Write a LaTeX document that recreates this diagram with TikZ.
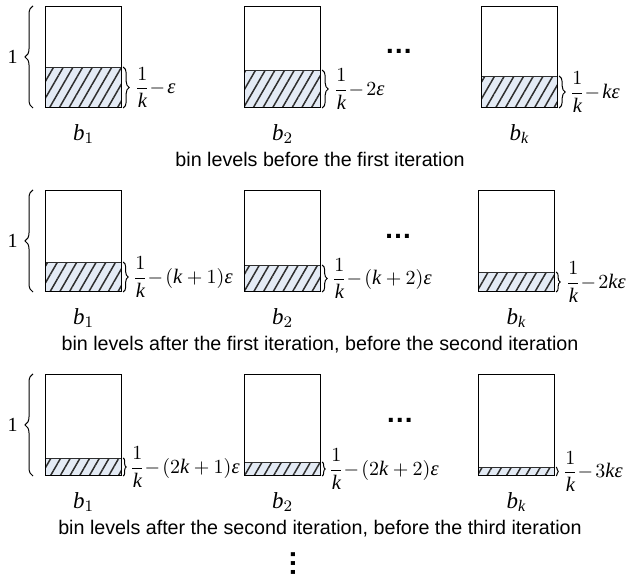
\documentclass[tikz,border=0pt]{standalone}
\usepackage{amsmath}
\usepackage{fontspec}
\setmainfont{Liberation Serif}
\newfontfamily\arialfont{Liberation Sans}
\usetikzlibrary{positioning,patterns.meta,decorations.pathreplacing}

\definecolor{hatchfill}{HTML}{E4EBF5}
\definecolor{hatchline}{HTML}{2E2E2E}

\newcommand{\lvl}[1]{$\nulldelimiterspace=0pt\dfrac{1}{\textit{k}}\mskip2mu{-}\mskip2mu#1$}
\newcommand{\veps}{\textit{ε}}
\newcommand{\vk}{\textit{k}}

\tikzset{
    bin/.style={draw, line width=0.55pt, minimum width=38pt, minimum height=50.5pt, inner sep=0pt, anchor=south west},
    fillbox/.style={draw=hatchline, line width=0.5pt, fill=hatchfill, minimum width=38pt, inner sep=0pt, anchor=south west,
        postaction={pattern={Lines[angle=60,distance=4.2pt,line width=0.75pt]}, pattern color=hatchline}},
    lvlbrace/.style={decorate, decoration={brace, amplitude=#1}, line width=0.5pt},
    lvl/.style={inner sep=0pt, font=\fontsize{10.3}{12}\selectfont},
    binname/.style={inner sep=0pt, font=\fontsize{11.5}{13}\selectfont},
    caption/.style={inner sep=0pt, anchor=base, font=\arialfont\fontsize{9.85}{12}\selectfont},
    one/.style={inner sep=0pt, font=\fontsize{10}{12}\selectfont},
    moredots/.style={inner sep=0pt, font=\arialfont\bfseries\fontsize{14}{14}\selectfont}
}

\begin{document}
\begin{tikzpicture}[x=0.5pt,y=-0.5pt]
        \useasboundingbox (0,0) rectangle (639,580);

        % Before the first iteration
        \node[fillbox, minimum height=20pt] (r1h1) at (45,108) {};
        \node[bin] (r1b1) at (45,108) {};
        \node[fillbox, minimum height=18.5pt] (r1h2) at (244,108) {};
        \node[bin] (r1b2) at (244,108) {};
        \node[fillbox, minimum height=15.5pt] (r1hk) at (481,108) {};
        \node[bin] (r1bk) at (481,108) {};
        \draw[lvlbrace=4pt] ([xshift=-6pt]r1b1.south west) -- ([xshift=-6pt]r1b1.north west);
        \node[one, left=13.5pt of r1b1.west] (r1one) {1};
        \draw[lvlbrace=3pt] ([xshift=0.6pt]r1h1.north east) -- ([xshift=0.6pt]r1h1.south east);
        \draw[lvlbrace=3pt] ([xshift=0.6pt]r1h2.north east) -- ([xshift=0.6pt]r1h2.south east);
        \draw[lvlbrace=3pt] ([xshift=0.6pt]r1hk.north east) -- ([xshift=0.6pt]r1hk.south east);
        \node[lvl, right=7.5pt of r1h1.east] (r1l1) {\lvl{\veps}};
        \node[lvl, right=7.5pt of r1h2.east] (r1l2) {\lvl{2\veps}};
        \node[lvl, right=7pt of r1hk.east] (r1lk) {\lvl{\vk\veps}};
        \node[binname, below=8pt of r1b1.south] (r1n1) {$\textit{b}_1$};
        \node[binname, below=8pt of r1b2.south] (r1n2) {$\textit{b}_2$};
        \node[binname, below=8pt of r1bk.south] (r1nk) {$\textit{b}_{\textit{k}}$};
        \node[moredots] (r1dots) at (399,51) {\ldots};
        \node[caption] (cap1) at (320,166) {bin levels before the first iteration};

        % After the first iteration
        \node[fillbox, minimum height=14.5pt] (r2h1) at (45,292) {};
        \node[bin] (r2b1) at (45,292) {};
        \node[fillbox, minimum height=13pt] (r2h2) at (244,292) {};
        \node[bin] (r2b2) at (244,292) {};
        \node[fillbox, minimum height=9.5pt] (r2hk) at (478,292) {};
        \node[bin] (r2bk) at (478,292) {};
        \draw[lvlbrace=4pt] ([xshift=-6pt]r2b1.south west) -- ([xshift=-6pt]r2b1.north west);
        \node[one, left=13.5pt of r2b1.west] (r2one) {1};
        \draw[lvlbrace=2.5pt] ([xshift=0.6pt]r2h1.north east) -- ([xshift=0.6pt]r2h1.south east);
        \draw[lvlbrace=2.5pt] ([xshift=0.6pt]r2h2.north east) -- ([xshift=0.6pt]r2h2.south east);
        \draw[lvlbrace=2pt] ([xshift=0.6pt]r2hk.north east) -- ([xshift=0.6pt]r2hk.south east);
        \node[lvl, right=6.5pt of r2h1.east] (r2l1) {\lvl{(\vk+1)\veps}};
        \node[lvl, right=6.5pt of r2h2.east] (r2l2) {\lvl{(\vk+2)\veps}};
        \node[lvl, right=6.5pt of r2hk.east] (r2lk) {\lvl{2\vk\veps}};
        \node[binname, below=8pt of r2b1.south] (r2n1) {$\textit{b}_1$};
        \node[binname, below=8pt of r2b2.south] (r2n2) {$\textit{b}_2$};
        \node[binname, below=8pt of r2bk.south] (r2nk) {$\textit{b}_{\textit{k}}$};
        \node[moredots] (r2dots) at (398,236) {\ldots};
        \node[caption] (cap2) at (320,350) {bin levels after the first iteration, before the second iteration};

        % After the second iteration
        \node[fillbox, minimum height=8.5pt] (r3h1) at (45,476) {};
        \node[bin] (r3b1) at (45,476) {};
        \node[fillbox, minimum height=6.5pt] (r3h2) at (244,476) {};
        \node[bin] (r3b2) at (244,476) {};
        \node[fillbox, minimum height=4pt] (r3hk) at (478,476) {};
        \node[bin] (r3bk) at (478,476) {};
        \draw[lvlbrace=4pt] ([xshift=-6pt]r3b1.south west) -- ([xshift=-6pt]r3b1.north west);
        \node[one, left=13.5pt of r3b1.west] (r3one) {1};
        \draw[lvlbrace=1.5pt] ([xshift=0.6pt]r3h1.north east) -- ([xshift=0.6pt]r3h1.south east);
        \draw[lvlbrace=1.5pt] ([xshift=0.6pt]r3h2.north east) -- ([xshift=0.6pt]r3h2.south east);
        \draw[lvlbrace=1pt] ([xshift=0.6pt]r3hk.north east) -- ([xshift=0.6pt]r3hk.south east);
        \node[lvl, right=5pt of r3h1.east] (r3l1) {\lvl{(2\vk+1)\veps}};
        \node[lvl, right=5pt of r3h2.east] (r3l2) {\lvl{(2\vk+2)\veps}};
        \node[lvl, right=5pt of r3hk.east] (r3lk) {\lvl{3\vk\veps}};
        \node[binname, below=8pt of r3b1.south] (r3n1) {$\textit{b}_1$};
        \node[binname, below=8pt of r3b2.south] (r3n2) {$\textit{b}_2$};
        \node[binname, below=8pt of r3bk.south] (r3nk) {$\textit{b}_{\textit{k}}$};
        \node[moredots] (r3dots) at (400,420) {\ldots};
        \node[caption] (cap3) at (320,534) {bin levels after the second iteration, before the third iteration};

        % More iterations follow
        \node[moredots, rotate=90] (vdots) at (293,563) {\ldots};
    \end{tikzpicture}
\end{document}
